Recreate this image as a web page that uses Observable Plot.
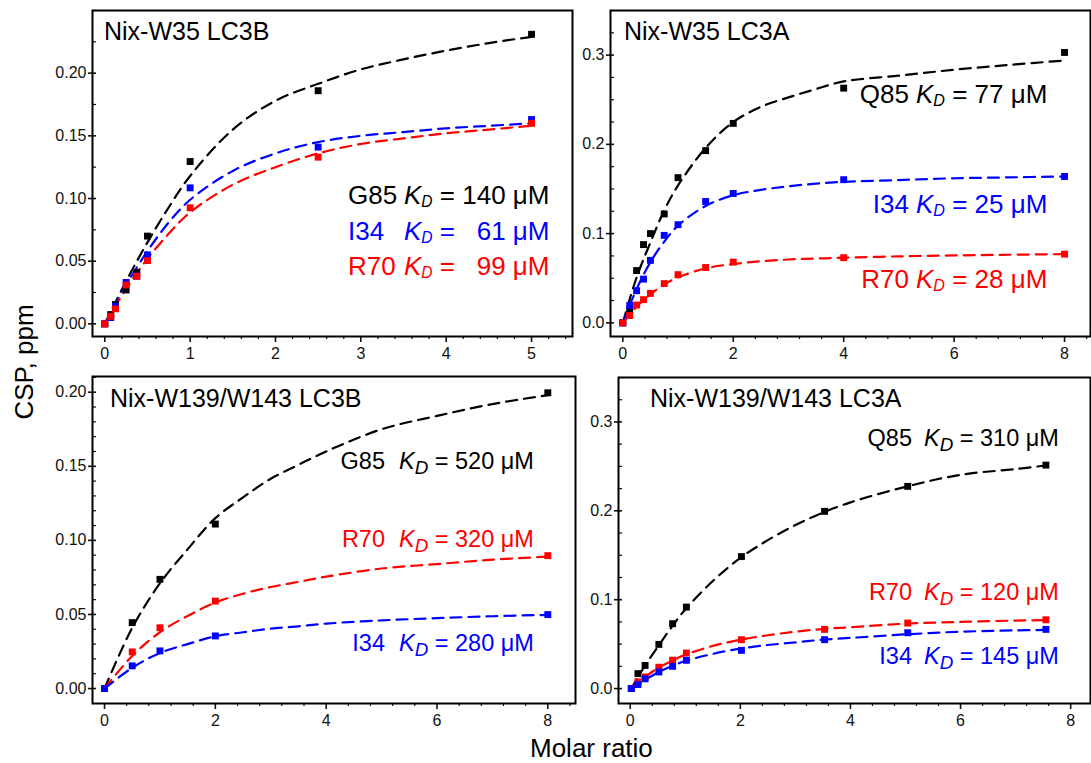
<!DOCTYPE html>
<html><head><meta charset="utf-8">
<script src="https://cdn.jsdelivr.net/npm/d3@7"></script>
<script src="https://cdn.jsdelivr.net/npm/@observablehq/plot@0.6"></script>
<style>
body{margin:0;background:#fff;}
#fig{position:relative;width:1091px;height:763px;font-family:"Liberation Sans",Arial,sans-serif;color:#000;overflow:hidden;background:#fff;}
.panel{position:absolute;}
.t{position:absolute;white-space:nowrap;line-height:1;}
</style></head><body><div id="fig"></div>
<script>
// ---------- Panel 1: Nix-W35 LC3B ----------
const p1Title = "Nix-W35 LC3B";
const p1x   = [0, 0.07, 0.125, 0.25, 0.375, 0.5, 1, 2.5, 5];
const p1G85 = [0, 0.0074, 0.0154, 0.027, 0.041, 0.070, 0.1295, 0.186, 0.231];
const p1I34 = [0, 0.005, 0.014, 0.033, 0.038, 0.055, 0.1085, 0.141, 0.163];
const p1R70 = [0, 0.006, 0.012, 0.031, 0.038, 0.0505, 0.0926, 0.133, 0.160];
const f1x   = [0, 0.25, 0.5, 0.75, 1, 1.5, 2, 2.5, 3, 3.5, 4, 4.5, 5];
const f1G85 = [0, 0.034, 0.065, 0.093, 0.118, 0.155, 0.178, 0.1915, 0.203, 0.211, 0.218, 0.224, 0.229];
const f1I34 = [0, 0.031, 0.058, 0.081, 0.099, 0.122, 0.136, 0.145, 0.150, 0.153, 0.156, 0.158, 0.160];
const f1R70 = [0, 0.028, 0.052, 0.072, 0.089, 0.111, 0.125, 0.136, 0.1435, 0.148, 0.152, 0.155, 0.158];
const p1Labels = ["G85", "I34", "R70"];
const p1Kd = ["140", "\u200761", "\u200799"];

// ---------- Panel 2: Nix-W35 LC3A ----------
const p2Title = "Nix-W35 LC3A";
const p2x   = [0, 0.125, 0.25, 0.375, 0.5, 0.75, 1, 1.5, 2, 4, 8];
const p2Q85 = [0, 0.014, 0.0586, 0.0877, 0.100, 0.122, 0.1627, 0.193, 0.2235, 0.263, 0.303];
const p2I34 = [0, 0.0194, 0.036, 0.049, 0.070, 0.098, 0.110, 0.136, 0.145, 0.1604, 0.164];
const p2R70 = [0, 0.0082, 0.020, 0.026, 0.033, 0.044, 0.054, 0.062, 0.068, 0.073, 0.077];
const f2x   = [0, 0.25, 0.5, 0.75, 1, 1.5, 2, 2.5, 3, 3.5, 4, 5, 6, 7, 8];
const f2Q85 = [0, 0.051, 0.090, 0.126, 0.154, 0.196, 0.225, 0.242, 0.2526, 0.262, 0.2705, 0.277, 0.2836, 0.289, 0.294];
const f2I34 = [0, 0.038, 0.068, 0.091, 0.109, 0.131, 0.143, 0.149, 0.153, 0.156, 0.158, 0.160, 0.162, 0.163, 0.164];
const f2R70 = [0, 0.018, 0.032, 0.043, 0.051, 0.061, 0.066, 0.069, 0.071, 0.072, 0.073, 0.0745, 0.0755, 0.0763, 0.077];
const p2Labels = ["Q85", "I34", "R70"];
const p2Kd = ["77", "25", "28"];

// ---------- Panel 3: Nix-W139/W143 LC3B ----------
const p3Title = "Nix-W139/W143 LC3B";
const p3x   = [0, 0.5, 1, 2, 8];
const p3G85 = [0, 0.0445, 0.0737, 0.111, 0.1996];
const p3R70 = [0, 0.0247, 0.041, 0.059, 0.0897];
const p3I34 = [0, 0.0153, 0.0254, 0.0355, 0.0499];
const f3x   = [0, 0.5, 1, 1.5, 2, 2.5, 3, 3.5, 4, 5, 6, 7, 8];
const f3G85 = [0, 0.041, 0.071, 0.094, 0.115, 0.129, 0.1416, 0.151, 0.160, 0.175, 0.184, 0.192, 0.198];
const f3R70 = [0, 0.022, 0.038, 0.049, 0.058, 0.064, 0.0685, 0.072, 0.0755, 0.081, 0.084, 0.087, 0.089];
const f3I34 = [0, 0.014, 0.024, 0.030, 0.0353, 0.038, 0.0404, 0.042, 0.0438, 0.046, 0.0475, 0.0488, 0.0497];
const p3Labels = ["G85", "R70", "I34"];
const p3Kd = ["520", "320", "280"];

// ---------- Panel 4: Nix-W139/W143 LC3A ----------
const p4Title = "Nix-W139/W143 LC3A";
const p4x   = [0.02, 0.14, 0.27, 0.52, 0.77, 1.02, 2.02, 3.53, 5.04, 7.55];
const p4Q85 = [0, 0.0168, 0.026, 0.0497, 0.073, 0.0917, 0.1485, 0.1994, 0.2275, 0.2514];
const p4R70 = [0, 0.0075, 0.013, 0.024, 0.032, 0.040, 0.055, 0.0666, 0.0737, 0.0774];
const p4I34 = [0, 0.0045, 0.011, 0.0187, 0.025, 0.0318, 0.043, 0.055, 0.0628, 0.0666];
const f4x   = [0.02, 0.25, 0.5, 0.75, 1, 1.5, 2, 2.5, 3, 3.5, 4, 5, 6, 7, 7.55];
const f4Q85 = [0, 0.024, 0.047, 0.069, 0.089, 0.121, 0.147, 0.167, 0.184, 0.198, 0.2095, 0.227, 0.2405, 0.247, 0.251];
const f4R70 = [0, 0.012, 0.023, 0.031, 0.038, 0.048, 0.055, 0.060, 0.064, 0.067, 0.069, 0.073, 0.075, 0.0765, 0.077];
const f4I34 = [0, 0.009, 0.018, 0.025, 0.031, 0.039, 0.045, 0.049, 0.052, 0.055, 0.057, 0.061, 0.064, 0.0655, 0.066];
const p4Labels = ["Q85", "R70", "I34"];
const p4Kd = ["310", "120", "145"];

const yAxisLabel = "CSP, ppm";
const xAxisLabel = "Molar ratio";

// ---------- helpers ----------
const fig = document.getElementById("fig");
const W = 1091;
const rows = (xs, ys) => xs.map((x, i) => ({x, y: ys[i]}));
const range = (a, b, s) => { const out = []; for (let v = a; v <= b + 1e-9; v += s) out.push(+v.toFixed(4)); return out; };

function panel(cfg) {
  const [x0, x1] = cfg.xDomain, [y0, y1] = cfg.yDomain;
  const inX = v => v >= x0 && v <= x1, inY = v => v >= y0 && v <= y1;
  const xMajor = cfg.xTicks.filter(inX);
  const xMinor = range(0, x1, cfg.xMinorStep).filter(v => inX(v) && !xMajor.some(m => Math.abs(m - v) < 1e-6));
  const yMajor = cfg.yTicks.filter(inY);
  const yMinor = range(0, y1, cfg.yMinorStep).filter(v => inY(v) && !yMajor.some(m => Math.abs(m - v) < 1e-6));
  const marks = [
    Plot.axisX({ticks: xMinor, tickSize: 3, text: null, label: null, strokeWidth: 1.2}),
    Plot.axisX({ticks: xMajor, tickSize: 6, tickPadding: 5, label: null, fontSize: 16, strokeWidth: 1.6, tickFormat: d => String(d)}),
    Plot.axisY({ticks: yMinor, tickSize: 4, dx: 4, text: null, label: null, strokeWidth: 1.2}),
    Plot.axisY({ticks: yMajor, tickSize: 8, dx: 4, text: null, label: null, strokeWidth: 1.6}),
    Plot.axisY({ticks: yMajor, tickSize: 0, tickPadding: 6, label: null, fontSize: 16, tickFormat: d3.format(cfg.yFmt)}),
  ];
  for (const s of cfg.series) {
    marks.push(Plot.line(rows(cfg.fx, s.fit), {x: "x", y: "y", stroke: s.color, strokeWidth: 2.2, strokeDasharray: "11,7", curve: "catmull-rom"}));
  }
  for (const s of cfg.series) {
    marks.push(Plot.dot(rows(cfg.px, s.pts), {x: "x", y: "y", fill: s.color, symbol: "square", r: 3.9}));
  }
  marks.push(Plot.frame({stroke: "black", strokeWidth: 2}));
  const svg = Plot.plot({
    width: cfg.w, height: cfg.h,
    marginLeft: cfg.m[3], marginRight: cfg.m[1], marginTop: cfg.m[0], marginBottom: cfg.m[2],
    x: {domain: cfg.xDomain, label: null},
    y: {domain: cfg.yDomain, label: null},
    style: {fontFamily: '"Liberation Sans", Arial, sans-serif', fontSize: "16px", color: "#111", background: "transparent", overflow: "visible"},
    marks
  });
  svg.classList.add("panel");
  svg.style.left = cfg.left + "px";
  svg.style.top = cfg.top + "px";
  fig.appendChild(svg);
}

function text(html, o) {
  const d = document.createElement("div");
  d.className = "t";
  d.innerHTML = html;
  d.style.fontSize = o.fs + "px";
  d.style.color = o.color || "#000";
  d.style.top = (o.base - 0.8465 * o.fs) + "px";
  if (o.right != null) d.style.right = (W - o.right) + "px"; else d.style.left = o.left + "px";
  fig.appendChild(d);
}

function kd(value, subSize, subDrop) {
  return `<i>K</i><span style="font-style:italic;font-size:${subSize}em;position:relative;top:${subDrop}em">D</span> = ${value} \u03bcM`;
}

// ---------- panels ----------
panel({left: 0, top: 0, w: 585, h: 372, m: [10, 13, 36, 92],
  xDomain: [-0.144, 5.48], yDomain: [-0.0101, 0.25],
  xTicks: [0, 1, 2, 3, 4, 5], xMinorStep: 0.2, yTicks: [0, 0.05, 0.1, 0.15, 0.2], yMinorStep: 0.025, yFmt: ".2f",
  px: p1x, fx: f1x,
  series: [{color: "black", pts: p1G85, fit: f1G85}, {color: "blue", pts: p1I34, fit: f1I34}, {color: "red", pts: p1R70, fit: f1R70}]});

panel({left: 575, top: 0, w: 516, h: 372, m: [10, 1, 36, 35],
  xDomain: [-0.223, 8.47], yDomain: [-0.0153, 0.35],
  xTicks: [0, 2, 4, 6, 8], xMinorStep: 0.4, yTicks: [0, 0.1, 0.2, 0.3], yMinorStep: 0.025, yFmt: ".1f",
  px: p2x, fx: f2x,
  series: [{color: "black", pts: p2Q85, fit: f2Q85}, {color: "blue", pts: p2I34, fit: f2I34}, {color: "red", pts: p2R70, fit: f2R70}]});

panel({left: 0, top: 372, w: 585, h: 391, m: [4, 10, 60, 92],
  xDomain: [-0.217, 8.5], yDomain: [-0.0101, 0.2106],
  xTicks: [0, 2, 4, 6, 8], xMinorStep: 0.4, yTicks: [0, 0.05, 0.1, 0.15, 0.2], yMinorStep: 0.01, yFmt: ".2f",
  px: p3x, fx: f3x,
  series: [{color: "black", pts: p3G85, fit: f3G85}, {color: "red", pts: p3R70, fit: f3R70}, {color: "blue", pts: p3I34, fit: f3I34}]});

panel({left: 575, top: 372, w: 516, h: 391, m: [5, 1, 60, 43],
  xDomain: [-0.213, 8.36], yDomain: [-0.0168, 0.35],
  xTicks: [0, 2, 4, 6, 8], xMinorStep: 0.4, yTicks: [0, 0.1, 0.2, 0.3], yMinorStep: 0.025, yFmt: ".1f",
  px: p4x, fx: f4x,
  series: [{color: "black", pts: p4Q85, fit: f4Q85}, {color: "red", pts: p4R70, fit: f4R70}, {color: "blue", pts: p4I34, fit: f4I34}]});

// ---------- titles ----------
text(p1Title, {left: 104, base: 40, fs: 25});
text(p2Title, {left: 624, base: 40, fs: 25});
text(p3Title, {left: 110, base: 407, fs: 25});
text(p4Title, {left: 650, base: 407, fs: 25});

// ---------- K_D annotations ----------
const topColors1 = ["#000", "#0000ff", "#ff0000"];
const bases1 = [204, 240, 275];
p1Labels.forEach((l, i) => {
  text(l, {left: 348, base: bases1[i], fs: 26, color: topColors1[i]});
  text(kd(p1Kd[i], 0.6, 0.18), {left: 404, base: bases1[i], fs: 26, color: topColors1[i]});
});
const bases2 = [103, 213, 288];
p2Labels.forEach((l, i) => {
  text(l, {right: 909, base: bases2[i], fs: 26, color: topColors1[i]});
  text(kd(p2Kd[i], 0.62, 0.2), {left: 916, base: bases2[i], fs: 26, color: topColors1[i]});
});
const botColors = ["#000", "#ff0000", "#0000ff"];
const bases3 = [470, 548, 652];
p3Labels.forEach((l, i) => {
  text(l, {right: 385, base: bases3[i], fs: 23.5, color: botColors[i]});
  text(kd(p3Kd[i], 0.8, 0.28), {left: 399, base: bases3[i], fs: 23.5, color: botColors[i]});
});
const bases4 = [447, 601, 665];
p4Labels.forEach((l, i) => {
  text(l, {right: 912, base: bases4[i], fs: 23.5, color: botColors[i]});
  text(kd(p4Kd[i], 0.8, 0.28), {left: 924, base: bases4[i], fs: 23.5, color: botColors[i]});
});

// ---------- axis titles ----------
const yl = document.createElement("div");
yl.className = "t";
yl.textContent = yAxisLabel;
yl.style.fontSize = "26px";
yl.style.left = "24px";
yl.style.top = "362px";
yl.style.transform = "translate(-50%,-50%) rotate(-90deg)";
fig.appendChild(yl);

text(xAxisLabel, {left: 530, base: 757, fs: 26});
</script></body></html>
